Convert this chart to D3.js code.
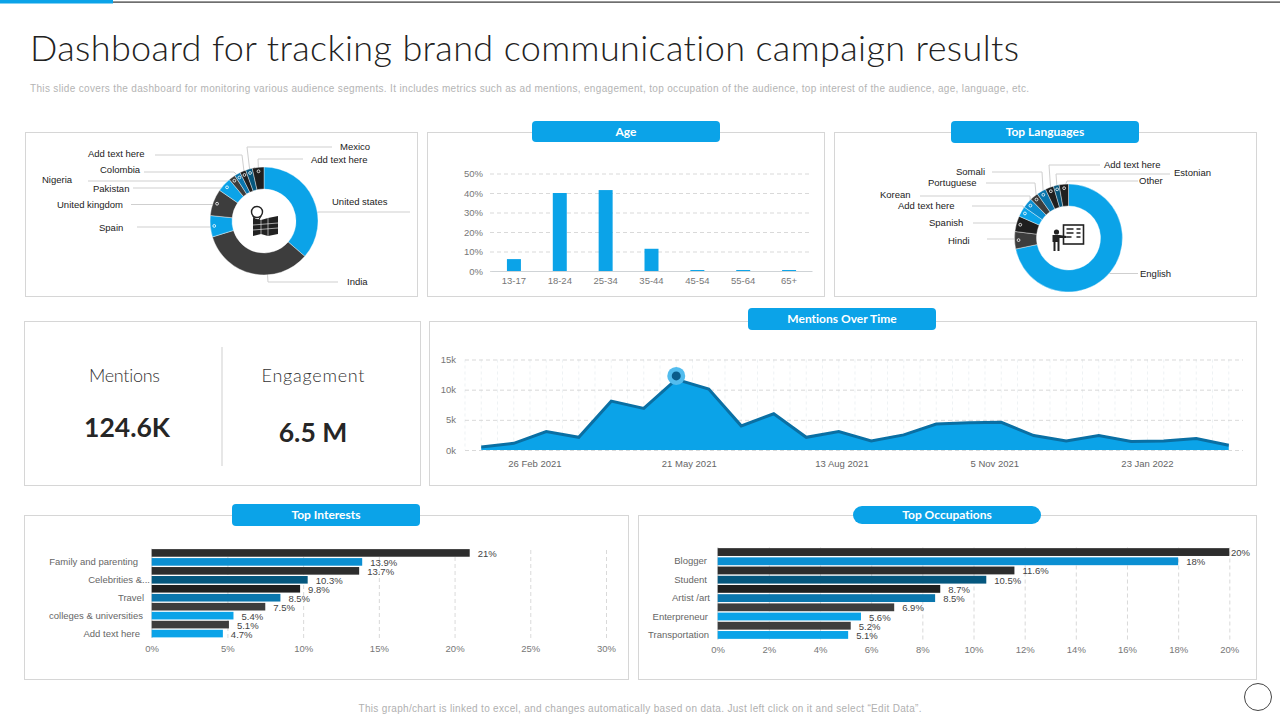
<!DOCTYPE html>
<html>
<head>
<meta charset="utf-8">
<script src="https://cdn.jsdelivr.net/npm/d3@7"></script>
<style>
  html, body { margin: 0; padding: 0; background: #fff; overflow: hidden; }
  svg { display: block; }
  text { font-family: "Liberation Sans", Arial, sans-serif; font-variant-ligatures: none; }
  .head { font-family: Lato, sans-serif; }
  .tick text { fill: #777; font-size: 9.5px; font-family: "Liberation Sans", Arial, sans-serif; }
  .tick line { stroke: #cfcfcf; stroke-dasharray: 4 3; stroke-width: 0.8; }
</style>
</head>
<body>
<svg id="chart" width="1280" height="720"></svg>
<script>
// chart values
var countryLabels = ["United states", "India", "Spain", "United kingdom", "Pakistan", "Nigeria", "Colombia", "Add text here", "Mexico", "Add text here"];
var countryValues = [36.4, 33.9, 6.4, 8, 4.3, 2, 1.8, 1.8, 2, 3.5];

var ageLabels = ["13-17", "18-24", "25-34", "35-44", "45-54", "55-64", "65+"];
var ageValues = [6.1, 40, 41.5, 11.4, 0.5, 0.5, 0.5];
var ageTicks = [0, 10, 20, 30, 40, 50];

var languageLabels = ["English", "Hindi", "Spanish", "Add text here", "Korean", "Portuguese", "Somali", "Add text here", "Estonian", "Other"];
var languageValues = [71.8, 5.2, 4.7, 3.1, 3, 2.5, 2.8, 2.5, 1.7, 2.8];

var mentionValues = [0.5, 1.1, 3.05, 2.1, 8.1, 6.9, 11.7, 10.1, 4, 6, 2.1, 3.05, 1.5, 2.5, 4.3, 4.5, 4.6, 2.4, 1.5, 2.4, 1.4, 1.5, 1.9, 0.8];
var mentionTicks = [0, 5, 10, 15];
var mentionDates = ["26 Feb 2021", "21 May 2021", "13 Aug 2021", "5 Nov 2021", "23 Jan 2022"];
var mentionDateIndex = [1.65, 6.4, 11.1, 15.8, 20.5];
var mentionPeak = 6;

var interestLabels = ["Family and parenting", "Celebrities &...", "Travel", "colleges & universities", "Add text here"];
var interestValues = [21, 13.9, 13.7, 10.3, 9.8, 8.5, 7.5, 5.4, 5.1, 4.7];
var interestTicks = [0, 5, 10, 15, 20, 25, 30];

var occupationLabels = ["Blogger", "Student", "Artist /art", "Enterpreneur", "Transportation"];
var occupationValues = [20, 18, 11.6, 10.5, 8.7, 8.5, 6.9, 5.6, 5.2, 5.1];
var occupationTicks = [0, 2, 4, 6, 8, 10, 12, 14, 16, 18, 20];

var kpiNames = ["Mentions", "Engagement"];
var kpiValues = ["124.6K", "6.5 M"];

// colours
var blue = "#0ba3e8", gray = "#3d3d3d", black = "#1f1f1f", mid = "#0a76ad", deep = "#05577e", bright = "#0b8fd2";
var countryColors = [blue, gray, blue, gray, blue, gray, mid, black, deep, black];
var languageColors = [blue, gray, black, blue, bright, gray, mid, black, deep, black];
var barColors = ["#2d2d2d", bright, "#2d2d2d", deep, black, mid, gray, blue, gray, blue];

// label and leader placement: text x, text y, anchor, elbow x, line y, line end x
var countryPlaces = [
  [332, 205, "start", 319, 212, 410], [347, 285, "start", 268, 282, 338],
  [99, 231, "start", 212, 227, 137], [57, 208, "start", 214, 204.5, 131],
  [93, 192, "start", 222, 188, 133], [42, 183, "start", 228, 181, 88],
  [100, 173, "start", 234, 172, 144], [88, 157, "start", 242, 155, 155],
  [340, 150, "start", 247, 147, 332], [311, 163, "start", 258, 159, 303]
];
var languagePlaces = [
  [1140, 277, "start", 1110, 273.5, 1138], [948, 244, "start", 1015, 239, 987],
  [929, 226, "start", 1018, 223, 973], [898, 209, "start", 1023, 206, 972],
  [880, 198, "start", 1030, 196, 920], [928, 186, "start", 1035, 183, 986],
  [956, 175, "start", 1042, 172, 992], [1104, 168, "start", 1049, 165, 1100],
  [1174, 176, "start", 1056, 174, 1170], [1139, 184, "start", 1067, 181, 1138]
];

var svg = d3.select("#chart");

// header
svg.append("rect").attr("x", 0).attr("y", 0).attr("width", 113).attr("height", 3.5).attr("fill", blue);
svg.append("rect").attr("x", 113).attr("y", 1.5).attr("width", 1167).attr("height", 1.2).attr("fill", "#333");
svg.append("text").attr("class", "head").attr("x", 30).attr("y", 61)
  .attr("font-size", 36).attr("font-weight", 300).attr("fill", "#222")
  .attr("textLength", 989).attr("lengthAdjust", "spacing")
  .text("Dashboard for tracking brand communication campaign results");
svg.append("text").attr("x", 30).attr("y", 92).attr("font-size", 10).attr("fill", "#b4b4b4")
  .attr("textLength", 999).attr("lengthAdjust", "spacing")
  .text("This slide covers the dashboard for monitoring various audience segments. It includes metrics such as ad mentions, engagement, top occupation of the audience, top interest of the audience, age, language, etc.");
svg.append("text").attr("x", 640).attr("y", 712).attr("text-anchor", "middle").attr("font-size", 10).attr("fill", "#b0b0b0")
  .attr("textLength", 563).attr("lengthAdjust", "spacing")
  .text("This graph/chart is linked to excel, and changes automatically based on data. Just left click on it and select \u201CEdit Data\u201D.");
svg.append("circle").attr("cx", 1258).attr("cy", 697).attr("r", 13.5).attr("fill", "none").attr("stroke", "#444");

// panels
function panel(x, y, x2, y2) {
  svg.append("rect").attr("x", x - 0.5).attr("y", y - 0.5).attr("width", x2 - x).attr("height", y2 - y)
    .attr("fill", "#fff").attr("stroke", "#d6d6d6").attr("stroke-width", 1);
}
function pill(x, y, w, h, r, label) {
  svg.append("rect").attr("x", x).attr("y", y).attr("width", w).attr("height", h).attr("rx", r).attr("fill", blue);
  svg.append("text").attr("class", "head").attr("x", x + w / 2).attr("y", y + h / 2 + 4)
    .attr("text-anchor", "middle").attr("font-size", 12).attr("font-weight", 700).attr("fill", "#fff").text(label);
}
panel(26, 133, 418, 297);
panel(428, 133, 825, 297);
panel(835, 133, 1257, 297);
panel(25, 322, 421, 486);
panel(430, 322, 1257, 486);
panel(25, 516, 629, 680);
panel(639, 516, 1257, 680);
pill(532, 121, 188, 21, 4, "Age");
pill(951, 121, 188, 22, 4, "Top Languages");
pill(748, 308, 188, 22, 4, "Mentions Over Time");
pill(232, 504, 188, 22, 4, "Top Interests");
pill(853, 506, 188, 18, 9, "Top Occupations");

// donuts
function donut(cx, cy, labels, values, colors, places) {
  var pie = d3.pie().sort(null)(values);
  var arc = d3.arc().innerRadius(32).outerRadius(54);
  var dotArc = d3.arc().innerRadius(50).outerRadius(50);
  var g = svg.append("g");

  // the two biggest slices have a plain leader with no dot
  function hasDot(i) { return i > 0 && !(labels === countryLabels && i === 1); }

  pie.forEach(function(d, i) {
    var p = places[i];
    var c = dotArc.centroid(d);
    var sx = hasDot(i) ? cx + c[0] : cx, sy = hasDot(i) ? cy + c[1] : cy;
    g.append("path").attr("fill", "none").attr("stroke", "#cfcfcf").attr("stroke-width", 1)
      .attr("d", "M" + sx + "," + sy + "L" + p[3] + "," + p[4] + "H" + p[5]);
    g.append("text").attr("x", p[0]).attr("y", p[1]).attr("text-anchor", p[2])
      .attr("font-size", 9.5).attr("fill", "#222").text(labels[i]);
  });

  g.append("circle").attr("cx", cx).attr("cy", cy).attr("r", 33).attr("fill", "#fff");

  g.selectAll("path.slice").data(pie).enter().append("path").attr("class", "slice")
    .attr("transform", "translate(" + cx + "," + cy + ")")
    .attr("d", arc)
    .attr("fill", function(d, i) { return colors[i]; })
    .attr("stroke", "#fff").attr("stroke-width", 0.4);

  g.selectAll("circle.dot").data(pie).enter().filter(function(d, i) { return hasDot(i); })
    .append("circle").attr("class", "dot")
    .attr("cx", function(d) { return cx + dotArc.centroid(d)[0]; })
    .attr("cy", function(d) { return cy + dotArc.centroid(d)[1]; })
    .attr("r", 1.4).attr("fill", "none").attr("stroke", "#fff").attr("stroke-width", 0.8);
}
donut(264, 221, countryLabels, countryValues, countryColors, countryPlaces);
donut(1068.5, 238, languageLabels, languageValues, languageColors, languagePlaces);

// map icon
var mapIcon = svg.append("g").attr("transform", "translate(264,221)");
mapIcon.append("path").attr("fill", "#222")
  .attr("d", "M-11,-3L-3,-1L4,-3L14,-5V13L4,15L-3,13L-11,15Z");
mapIcon.append("path").attr("fill", "none").attr("stroke", "#fff").attr("stroke-width", 0.6)
  .attr("d", "M-3,-1V13M4,-3V15M-11,4L14,2M-11,9L14,7");
mapIcon.append("circle").attr("cx", -7).attr("cy", -9).attr("r", 5.5).attr("fill", "#fff").attr("stroke", "#222").attr("stroke-width", 1.4);
mapIcon.append("path").attr("fill", "none").attr("stroke", "#222").attr("stroke-width", 1.2).attr("d", "M-11,-5L-7,2L-3,-5");

// presenter icon
var boardIcon = svg.append("g").attr("transform", "translate(1068.5,238)");
boardIcon.append("rect").attr("x", -5).attr("y", -13).attr("width", 20).attr("height", 19).attr("fill", "#fff").attr("stroke", "#222").attr("stroke-width", 1.6);
boardIcon.append("path").attr("stroke", "#222").attr("stroke-width", 1.5).attr("fill", "none")
  .attr("d", "M-2,-9H5M-2,-5H5M-2,-1H3M8,-9H12M8,-5H12M8,-1H12");
boardIcon.append("circle").attr("cx", -12).attr("cy", -6).attr("r", 2.6).attr("fill", "#222");
boardIcon.append("path").attr("fill", "#222")
  .attr("d", "M-16,-3H-9L-2,-2V0L-9,0V13H-11V4H-13V13H-15V4H-16Z");

// age bars
var ageX = d3.scaleBand().domain(ageLabels).range([491, 812]).paddingInner(0.695).paddingOuter(0.3475);
var ageY = d3.scaleLinear().domain([0, 50]).range([271, 173.5]);
var ageAxisY = svg.append("g").attr("transform", "translate(490,0)")
  .call(d3.axisLeft(ageY).tickValues(ageTicks).tickSize(-322).tickPadding(7).tickFormat(function(d) { return d + "%"; }));
ageAxisY.select(".domain").remove();
svg.append("g").selectAll("rect").data(ageValues).enter().append("rect")
  .attr("x", function(d, i) { return ageX(ageLabels[i]); })
  .attr("y", function(d) { return ageY(d); })
  .attr("width", ageX.bandwidth())
  .attr("height", function(d) { return ageY(0) - ageY(d); })
  .attr("fill", blue);
var ageAxisX = svg.append("g").attr("transform", "translate(0,271)")
  .call(d3.axisBottom(ageX).tickSize(0).tickPadding(6));
ageAxisX.select(".domain").attr("stroke", "#cfd3d6");

// mentions area
var mentionX = d3.scaleLinear().domain([-0.5, 23.5]).range([465, 1245]);
var mentionY = d3.scaleLinear().domain([0, 15]).range([450, 359.5]);
var halfSteps = d3.range(-0.5, 23.5, 0.5);
svg.append("g").selectAll("line").data(halfSteps).enter().append("line")
  .attr("x1", function(d) { return mentionX(d); }).attr("x2", function(d) { return mentionX(d); })
  .attr("y1", mentionY(15)).attr("y2", mentionY(0))
  .attr("stroke", "#e6ecef").attr("stroke-width", 0.7).attr("stroke-dasharray", "3 3");
var mentionAxisY = svg.append("g").attr("transform", "translate(465,0)")
  .call(d3.axisLeft(mentionY).tickValues(mentionTicks).tickSize(-778).tickPadding(9).tickFormat(function(d) { return d + "k"; }));
mentionAxisY.select(".domain").remove();
var area = d3.area()
  .x(function(d, i) { return mentionX(i); })
  .y0(mentionY(0))
  .y1(function(d) { return mentionY(d); });
var line = d3.line()
  .x(function(d, i) { return mentionX(i); })
  .y(function(d) { return mentionY(d); });
svg.append("path").datum(mentionValues).attr("d", area).attr("fill", blue);
svg.append("path").datum(mentionValues).attr("d", line).attr("fill", "none").attr("stroke", "#0a6fa3").attr("stroke-width", 3);
svg.append("circle").attr("cx", mentionX(mentionPeak)).attr("cy", mentionY(mentionValues[mentionPeak]) - 3.5).attr("r", 9).attr("fill", "#52bcee");
svg.append("circle").attr("cx", mentionX(mentionPeak)).attr("cy", mentionY(mentionValues[mentionPeak]) - 3.5).attr("r", 4.5).attr("fill", "#0a5c8a");
svg.append("g").selectAll("text").data(mentionDates).enter().append("text")
  .attr("x", function(d, i) { return mentionX(mentionDateIndex[i]); })
  .attr("y", 467).attr("text-anchor", "middle").attr("font-size", 9.5).attr("fill", "#666")
  .text(function(d) { return d; });

// kpis
svg.append("line").attr("x1", 222).attr("x2", 222).attr("y1", 347).attr("y2", 466).attr("stroke", "#cfcfcf");
var kpiX = [124.5, 313];
var kpiY = [437, 442];
var kpiNameWidth = [71, 103];
kpiNames.forEach(function(name, i) {
  svg.append("text").attr("class", "head").attr("x", kpiX[i]).attr("y", 382).attr("text-anchor", "middle")
    .attr("font-size", 18).attr("font-weight", 300).attr("fill", "#333")
    .attr("textLength", kpiNameWidth[i]).attr("lengthAdjust", "spacing").text(name);
  svg.append("text").attr("class", "head").attr("x", kpiX[i] + (i ? 0 : 2.5)).attr("y", kpiY[i]).attr("text-anchor", "middle")
    .attr("font-size", 26.5).attr("font-weight", 700).attr("fill", "#262626").text(kpiValues[i]);
});

// horizontal bars
function hbars(opts) {
  var x = d3.scaleLinear().domain(opts.domain).range(opts.xRange);
  var y = d3.scaleBand().domain(d3.range(opts.values.length)).range(opts.yRange).paddingInner(0.15).paddingOuter(0.07);
  var axis = svg.append("g").attr("transform", "translate(0," + opts.yRange[1] + ")")
    .call(d3.axisBottom(x).tickValues(opts.ticks).tickSize(-(opts.yRange[1] - opts.yRange[0])).tickPadding(7)
      .tickFormat(function(d) { return d + "%"; }));
  axis.select(".domain").remove();

  svg.append("line").attr("x1", x(0)).attr("x2", x(0)).attr("y1", opts.yRange[0]).attr("y2", opts.yRange[1]).attr("stroke", "#d8d8d8");

  svg.append("g").selectAll("rect").data(opts.values).enter().append("rect")
    .attr("x", x(0))
    .attr("y", function(d, i) { return y(i); })
    .attr("width", function(d) { return x(d) - x(0); })
    .attr("height", y.bandwidth())
    .attr("fill", function(d, i) { return barColors[i]; });

  svg.append("g").selectAll("text").data(opts.values).enter().append("text")
    .attr("x", function(d) { return Math.min(x(d) + 8, opts.maxLabelX); })
    .attr("y", function(d, i) { return y(i) + y.bandwidth() / 2 + 4; })
    .attr("font-size", 9.5).attr("fill", "#444")
    .text(function(d) { return d + "%"; });

  // only every second bar carries a category name
  svg.append("g").selectAll("text").data(opts.labels).enter().append("text")
    .attr("x", function(d, i) { return opts.labelX[i]; })
    .attr("y", function(d, i) { return y(i * 2 + 1) + y.bandwidth() / 2 + 3; })
    .attr("text-anchor", "end").attr("font-size", 9.5).attr("fill", "#666")
    .text(function(d) { return d; });
}
hbars({
  values: interestValues, labels: interestLabels, ticks: interestTicks, domain: [0, 30],
  xRange: [151.7, 606], yRange: [548.5, 638], maxLabelX: 1000, labelX: [138, 150, 144, 143, 140]
});
hbars({
  values: occupationValues, labels: occupationLabels, ticks: occupationTicks, domain: [0, 20],
  xRange: [717.7, 1229.3], yRange: [547.5, 639.5], maxLabelX: 1231, labelX: [707, 707, 710, 708, 709]
});
</script>
</body>
</html>
